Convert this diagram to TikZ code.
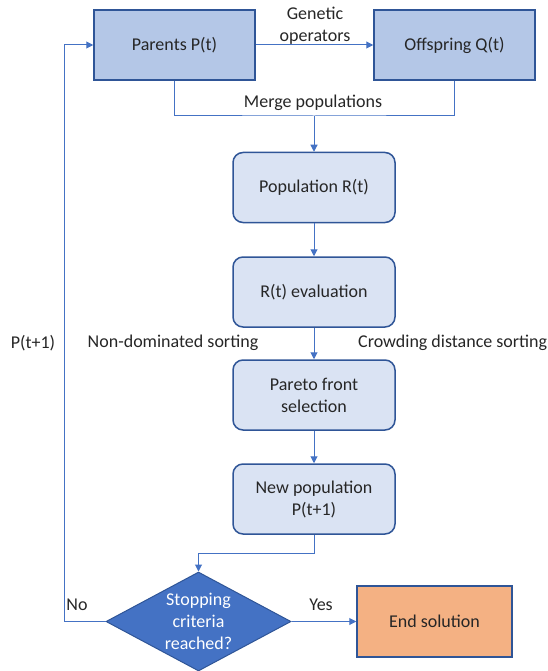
\documentclass[tikz,border=0pt]{standalone}
\usepackage{fontspec}
\setmainfont{Carlito}
\usepackage{tikz}
\usetikzlibrary{arrows.meta,positioning,shapes.geometric}
\usepackage{xcolor}
\definecolor{edge}{HTML}{2F5597}
\definecolor{flow}{HTML}{4472C4}
\definecolor{paleblue}{HTML}{B4C7E7}
\definecolor{lightblue}{HTML}{DAE3F3}
\definecolor{salmon}{HTML}{F4B183}
\definecolor{ink}{HTML}{262626}

\begin{document}
\begin{tikzpicture}[
      x=1pt, y=-1pt,
      font=\fontsize{18}{22}\selectfont, text=ink,
      popbox/.style={
        draw=edge, line width=1.5pt, fill=paleblue, align=center,
        minimum width=161pt, minimum height=70pt
      },
      stepbox/.style={
        draw=edge, line width=1.5pt, rounded corners=10pt, fill=lightblue, align=center,
        minimum width=162pt, minimum height=70pt
      },
      decision/.style={
        diamond, draw=edge, line width=1pt, fill=flow, text=white, align=center,
        minimum width=185pt, minimum height=99pt, inner sep=0pt, aspect=1.85
      },
      endbox/.style={
        draw=edge, line width=1.5pt, fill=salmon, align=center,
        minimum width=155pt, minimum height=71pt
      },
      tag/.style={align=center, inner sep=1pt},
      arrow/.style={-{Triangle[length=7pt,width=7pt]}, line width=1pt, draw=flow},
      link/.style={line width=1pt, draw=flow}
    ]
    \useasboundingbox (0,0) rectangle (547,671);

    \node[popbox] (parents) at (174.5,45) {Parents P(t)};
    \node[popbox] (offspring) at (454.5,45) {Offspring Q(t)};
    \node[stepbox] (pop) at (314,187.5) {Population R(t)};
    \node[stepbox] (eval) at (314,292) {R(t) evaluation};
    \node[stepbox] (pareto) at (314,395) {Pareto front\\selection};
    \node[stepbox] (newpop) at (314,499) {New population\\P(t+1)};
    \node[decision] (stop) at (198.5,621.5) {Stopping\\criteria\\reached?};
    \node[endbox] (finish) at (434.5,621.5) {End solution};

    \coordinate (merge) at (314,116);

    % labels
    \node[tag] (genetic) at (315,26) {Genetic\\operators};
    \node[tag] (mergelbl) at (313,103) {Merge populations};
    \node[tag] (nondom) at (173,343) {Non-dominated sorting};
    \node[tag, anchor=west] (crowd) at (357,343) {Crowding distance sorting};
    \node[tag] (nextgen) at (33,343) {P(t+1)};
    \node[tag] (yes) at (321,605) {Yes};
    \node[tag] (no) at (77,605) {No};

    \draw[arrow] (parents) -- (offspring);
    \draw[link] (parents.south) |- (merge) -| (offspring.south);
    \draw[arrow] (merge) -- (pop);
    \draw[arrow] (pop) -- (eval);
    \draw[arrow] (eval) -- (pareto);
    \draw[arrow] (pareto) -- (newpop);
    \draw[arrow] (newpop.south) -- ++(0,19) -| (stop.north);
    \draw[arrow] (stop) -- (finish);
    \draw[arrow] (stop.west) -- ++(-41,0) |- (parents.west);
  \end{tikzpicture}
\end{document}
